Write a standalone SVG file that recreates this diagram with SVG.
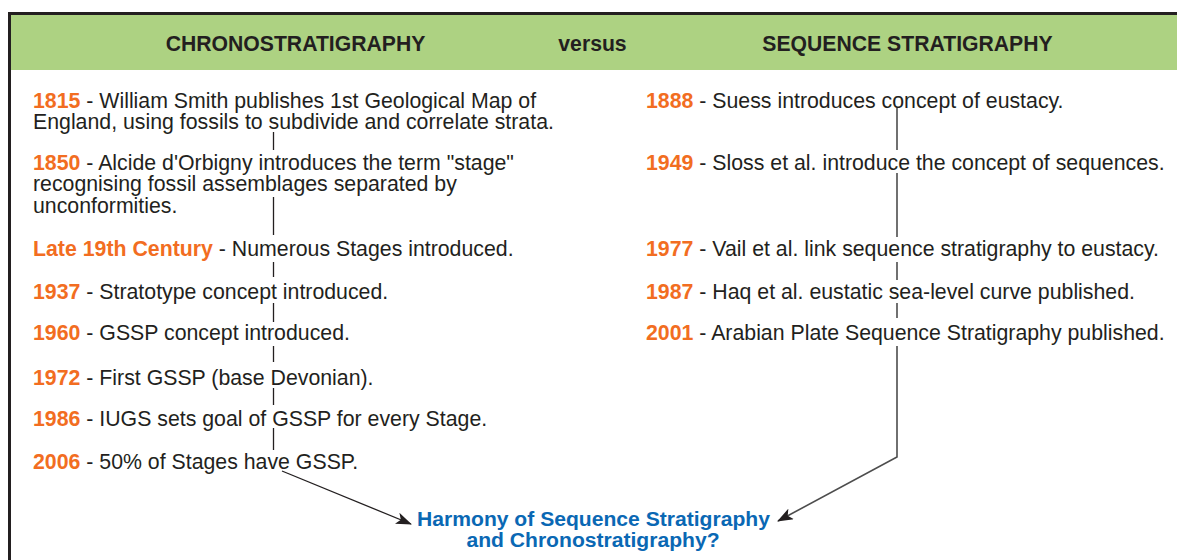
<svg xmlns="http://www.w3.org/2000/svg" width="1177" height="560" viewBox="0 0 1177 560">
<style>
text{font-family:"Liberation Sans",Arial,sans-serif;font-size:21.3px;fill:#231f20}
.h{font-weight:bold;text-anchor:middle;font-size:21.2px}
.y{font-weight:bold;fill:#f26d21}
.q{font-weight:bold;fill:#0a68b4;text-anchor:middle;font-size:21.1px}
.c{stroke:#231f20;stroke-width:1.3;fill:none}
.r{stroke:#4d4d4d;stroke-width:1.6;fill:none}
</style>
<defs>
<marker id="ah" markerWidth="16" markerHeight="12" refX="15" refY="6" orient="auto" markerUnits="userSpaceOnUse">
<path d="M0,0 L16,6 L0,12 L4,6 Z" fill="#231f20"/>
</marker>
</defs>
<g id="frame">
<rect x="11" y="15" width="1166" height="55" fill="#add282"/>
<line x1="8" y1="13.5" x2="1177" y2="13.5" stroke="#231f20" stroke-width="3"/>
<line x1="9.5" y1="12" x2="9.5" y2="560" stroke="#231f20" stroke-width="3"/>
</g>
<g id="header">
<text class="h" x="295.5" y="51">CHRONOSTRATIGRAPHY</text>
<text class="h" x="592.5" y="51">versus</text>
<text class="h" x="907.5" y="51">SEQUENCE STRATIGRAPHY</text>
</g>
<g id="connectors">
<line class="c" x1="273.5" y1="132" x2="273.5" y2="150"/>
<line class="c" x1="273.5" y1="197" x2="273.5" y2="235"/>
<line class="c" x1="273.5" y1="262" x2="273.5" y2="277"/>
<line class="c" x1="273.5" y1="303" x2="273.5" y2="322"/>
<line class="c" x1="273.5" y1="346" x2="273.5" y2="362"/>
<line class="c" x1="273.5" y1="388" x2="273.5" y2="405"/>
<line class="c" x1="273.5" y1="428" x2="273.5" y2="450"/>
<line class="c" x1="282" y1="471" x2="411" y2="524" marker-end="url(#ah)"/>
<line class="r" x1="897" y1="108" x2="897" y2="150"/>
<line class="r" x1="897" y1="173" x2="897" y2="237"/>
<line class="r" x1="897" y1="262" x2="897" y2="280"/>
<line class="r" x1="897" y1="303" x2="897" y2="318"/>
<polyline class="r" points="897,346 897,457 778,521" marker-end="url(#ah)"/>
</g>
<g id="chrono">
<g id="c1815"><text x="33" y="107.5"><tspan class="y">1815</tspan> - William Smith publishes 1st Geological Map of</text><text x="33" y="128.5">England, using fossils to subdivide and correlate strata.</text></g>
<g id="c1850"><text x="33" y="169.5"><tspan class="y">1850</tspan> - Alcide d'Orbigny introduces the term "stage"</text><text x="33" y="191">recognising fossil assemblages separated by</text><text x="33" y="212.5">unconformities.</text></g>
<g id="clate"><text x="33" y="255.5"><tspan class="y">Late 19th Century</tspan> - Numerous Stages introduced.</text></g>
<g id="c1937"><text x="33" y="298.5"><tspan class="y">1937</tspan> - Stratotype concept introduced.</text></g>
<g id="c1960"><text x="33" y="339.5"><tspan class="y">1960</tspan> - GSSP concept introduced.</text></g>
<g id="c1972"><text x="33" y="384.5"><tspan class="y">1972</tspan> - First GSSP (base Devonian).</text></g>
<g id="c1986"><text x="33" y="425.5"><tspan class="y">1986</tspan> - IUGS sets goal of GSSP for every Stage.</text></g>
<g id="c2006"><text x="33" y="468.5"><tspan class="y">2006</tspan> - 50% of Stages have GSSP.</text></g>
</g>
<g id="sequence">
<g id="s1888"><text x="646" y="107.5"><tspan class="y">1888</tspan> - Suess introduces concept of eustacy.</text></g>
<g id="s1949"><text x="646" y="169.5"><tspan class="y">1949</tspan> - Sloss et al. introduce the concept of sequences.</text></g>
<g id="s1977"><text x="646" y="255.5"><tspan class="y">1977</tspan> - Vail et al. link sequence stratigraphy to eustacy.</text></g>
<g id="s1987"><text x="646" y="298.5"><tspan class="y">1987</tspan> - Haq et al. eustatic sea-level curve published.</text></g>
<g id="s2001"><text x="646" y="339.5"><tspan class="y">2001</tspan> - Arabian Plate Sequence Stratigraphy published.</text></g>
</g>
<g id="harmony">
<text class="q" x="593.5" y="525.5">Harmony of Sequence Stratigraphy</text>
<text class="q" x="593" y="546.5">and Chronostratigraphy?</text>
</g>
</svg>
